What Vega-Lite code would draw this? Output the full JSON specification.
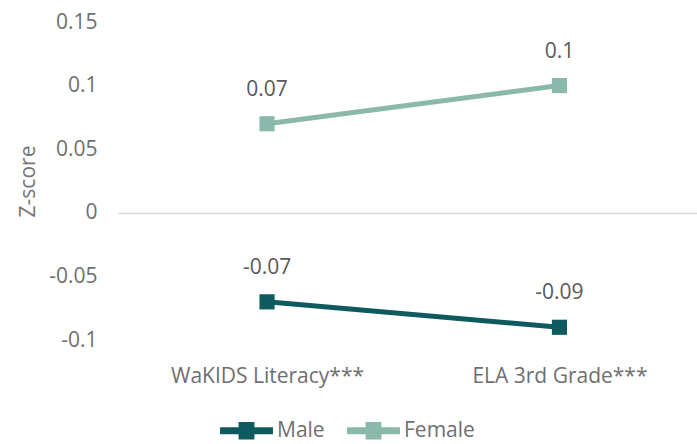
{
  "$schema": "https://vega.github.io/schema/vega-lite/v6.json",
  "width": 579,
  "height": 318,
  "autosize": {"type": "none"},
  "padding": {"left": 118, "top": 22, "right": 0, "bottom": 104},
  "background": "white",
  "config": {
    "font": "Open Sans",
    "view": {"stroke": null},
    "axis": {"labelColor": "#6f6f6f", "titleColor": "#767676", "labelFont": "Open Sans", "titleFont": "Open Sans"}
  },
  "data": {
    "values": [
      {"measure": "WaKIDS Literacy***", "group": "Male", "z": -0.07},
      {"measure": "ELA 3rd Grade***", "group": "Male", "z": -0.09},
      {"measure": "WaKIDS Literacy***", "group": "Female", "z": 0.07},
      {"measure": "ELA 3rd Grade***", "group": "Female", "z": 0.1}
    ]
  },
  "transform": [{"calculate": "datum.z + ''", "as": "label"}],
  "encoding": {
    "x": {
      "field": "measure", "type": "ordinal", "sort": null,
      "scale": {"type": "point", "padding": 0.49, "align": 0.52},
      "axis": {"title": null, "labelAngle": 0, "labelLimit": 0, "domain": false, "ticks": false, "grid": false, "labelFontSize": 21, "labelPadding": 25}
    },
    "y": {
      "field": "z", "type": "quantitative",
      "scale": {"domain": [-0.1, 0.15], "nice": false, "zero": false},
      "axis": {"title": "Z-score", "values": [-0.1, -0.05, 0, 0.05, 0.1, 0.15], "labelExpr": "datum.value + ''", "domain": false, "ticks": false, "grid": true, "gridColor": "#d9d9d9", "gridWidth": 1.5, "gridOpacity": {"condition": {"test": "datum.value === 0", "value": 1}, "value": 0}, "labelFontSize": 21, "labelPadding": 21, "titleFontSize": 21, "titleFontWeight": "normal", "titlePadding": 10}
    },
    "color": {
      "field": "group", "type": "nominal",
      "scale": {"domain": ["Male", "Female"], "range": ["#0e5a5e", "#8ab8aa"]},
      "legend": {"title": null, "orient": "none", "legendX": 102, "legendY": 382, "direction": "horizontal", "labelFontSize": 21, "labelColor": "#6f6f6f", "symbolType": "M-1,-0.13L1,-0.13L1,0.13L-1,0.13Z M-0.3,-0.33L0.3,-0.33L0.3,0.33L-0.3,0.33Z", "symbolSize": 2800, "symbolStrokeWidth": 0, "labelOffset": 4, "columnPadding": 22}
    }
  },
  "layer": [
    {"mark": {"type": "line", "strokeWidth": 5}},
    {"mark": {"type": "point", "shape": "square", "filled": true, "size": 230, "opacity": 1}},
    {"mark": {"type": "text", "dy": -34, "fontSize": 21}, "encoding": {"text": {"field": "label", "type": "nominal"}, "color": {"value": "#595959"}}}
  ]
}
